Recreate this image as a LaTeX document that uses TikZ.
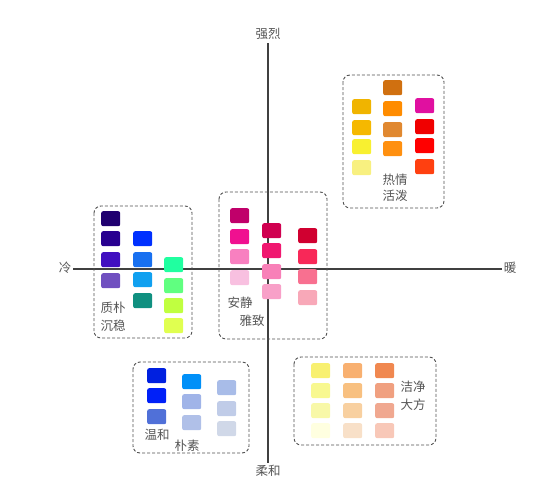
\documentclass[tikz,border=0pt]{standalone}
\usepackage{fontspec}
\newfontfamily\cjk{Noto Sans CJK SC}
\definecolor{axisc}{HTML}{404040}
\definecolor{boxc}{HTML}{505050}
\definecolor{txtc}{HTML}{555555}
\newcommand\msq[4]{\definecolor{tmpc}{HTML}{#4}\node[sqbox,fill=tmpc] (#1) at (#2,#3) {};}
\begin{document}
\begin{tikzpicture}[x=1pt,y=-1pt,
  sqbox/.style={rectangle,minimum width=19pt,minimum height=15pt,inner sep=0pt,anchor=north west,rounded corners=2pt,draw=none},
  grp/.style={draw=boxc,line width=0.9pt,dash pattern=on 3pt off 2pt,rounded corners=7pt},
  lbl/.style={text=txtc,font=\cjk\fontsize{12.5}{15}\selectfont,inner sep=0pt},
  axisl/.style={draw=axisc,line width=1.2pt}]
\useasboundingbox (0,0) rectangle (540,479);
% axes
\coordinate (vt) at (268,43);
\coordinate (vb) at (268,463);
\coordinate (hl) at (73,269);
\coordinate (hr) at (502,269);
\draw[axisl] (vt) -- (vb);
\draw[axisl] (hl) -- (hr);
\node[lbl] (strong) at (268,34) {强烈};
\node[lbl] (soft) at (268,471) {柔和};
\node[lbl] (cold) at (65,268) {冷};
\node[lbl] (warm) at (510,268) {暖};
% group boxes
\draw[grp] (343,75) rectangle (444,208);
\draw[grp] (94,206) rectangle (192,338);
\draw[grp] (219,192) rectangle (327,339);
\draw[grp] (133,362) rectangle (249,453);
\draw[grp] (294,357) rectangle (436,445);
% group 1: 热情活泼
\msq{a11}{352}{99}{F0B400}
\msq{a12}{352}{120}{F5B800}
\msq{a13}{352}{139}{F8F030}
\msq{a14}{352}{160}{F8F080}
\msq{a21}{383}{80}{D07010}
\msq{a22}{383}{101}{FF8C00}
\msq{a23}{383}{122}{E08830}
\msq{a24}{383}{141}{FF9010}
\msq{a31}{415}{98}{E010A0}
\msq{a32}{415}{119}{F00000}
\msq{a33}{415}{138}{FF0000}
\msq{a34}{415}{159}{FF4010}
\node[lbl] (t1a) at (395,180) {热情};
\node[lbl] (t1b) at (395,196) {活泼};
% group 2: 质朴沉稳
\msq{b11}{101}{211}{200070}
\msq{b12}{101}{231}{280090}
\msq{b13}{101}{252}{4010C0}
\msq{b14}{101}{273}{7050C0}
\msq{b21}{133}{231}{0030FF}
\msq{b22}{133}{252}{1870F0}
\msq{b23}{133}{272}{10A0F0}
\msq{b24}{133}{293}{109080}
\msq{b31}{164}{257}{20FFA0}
\msq{b32}{164}{278}{60FF80}
\msq{b33}{164}{298}{C0FF40}
\msq{b34}{164}{318}{E0FF50}
\node[lbl] (t2a) at (113,308) {质朴};
\node[lbl] (t2b) at (113,326) {沉稳};
% group 3: 安静雅致
\msq{c11}{230}{208}{C0006A}
\msq{c12}{230}{229}{F01090}
\msq{c13}{230}{249}{F880C0}
\msq{c14}{230}{270}{F8C0E0}
\msq{c21}{262}{223}{D00050}
\msq{c22}{262}{243}{F01870}
\msq{c23}{262}{264}{F880B8}
\msq{c24}{262}{284}{F8A0C8}
\msq{c31}{298}{228}{D00030}
\msq{c32}{298}{249}{F82858}
\msq{c33}{298}{269}{F87090}
\msq{c34}{298}{290}{F8A8B8}
\node[lbl] (t3a) at (240,303) {安静};
\node[lbl] (t3b) at (252,321) {雅致};
% group 4: 温和朴素
\msq{d11}{147}{368}{0020E0}
\msq{d12}{147}{388}{0020F8}
\msq{d13}{147}{409}{5070D8}
\msq{d21}{182}{374}{0090F8}
\msq{d22}{182}{394}{A0B4E8}
\msq{d23}{182}{415}{B0C0E8}
\msq{d31}{217}{380}{A8BCE8}
\msq{d32}{217}{401}{C0CCE8}
\msq{d33}{217}{421}{D0D8E8}
\node[lbl] (t4a) at (157,435) {温和};
\node[lbl] (t4b) at (187,446) {朴素};
% group 5: 洁净大方
\msq{e11}{311}{363}{F8F070}
\msq{e12}{311}{383}{F8F890}
\msq{e13}{311}{403}{F8F8A8}
\msq{e14}{311}{423}{FFFFE0}
\msq{e21}{343}{363}{F8B070}
\msq{e22}{343}{383}{F8C080}
\msq{e23}{343}{403}{F8D0A0}
\msq{e24}{343}{423}{F8E0C8}
\msq{e31}{375}{363}{F08850}
\msq{e32}{375}{383}{F0A080}
\msq{e33}{375}{403}{F0A890}
\msq{e34}{375}{423}{F8C8B8}
\node[lbl] (t5a) at (413,387) {洁净};
\node[lbl] (t5b) at (413,405) {大方};
\end{tikzpicture}
\end{document}
